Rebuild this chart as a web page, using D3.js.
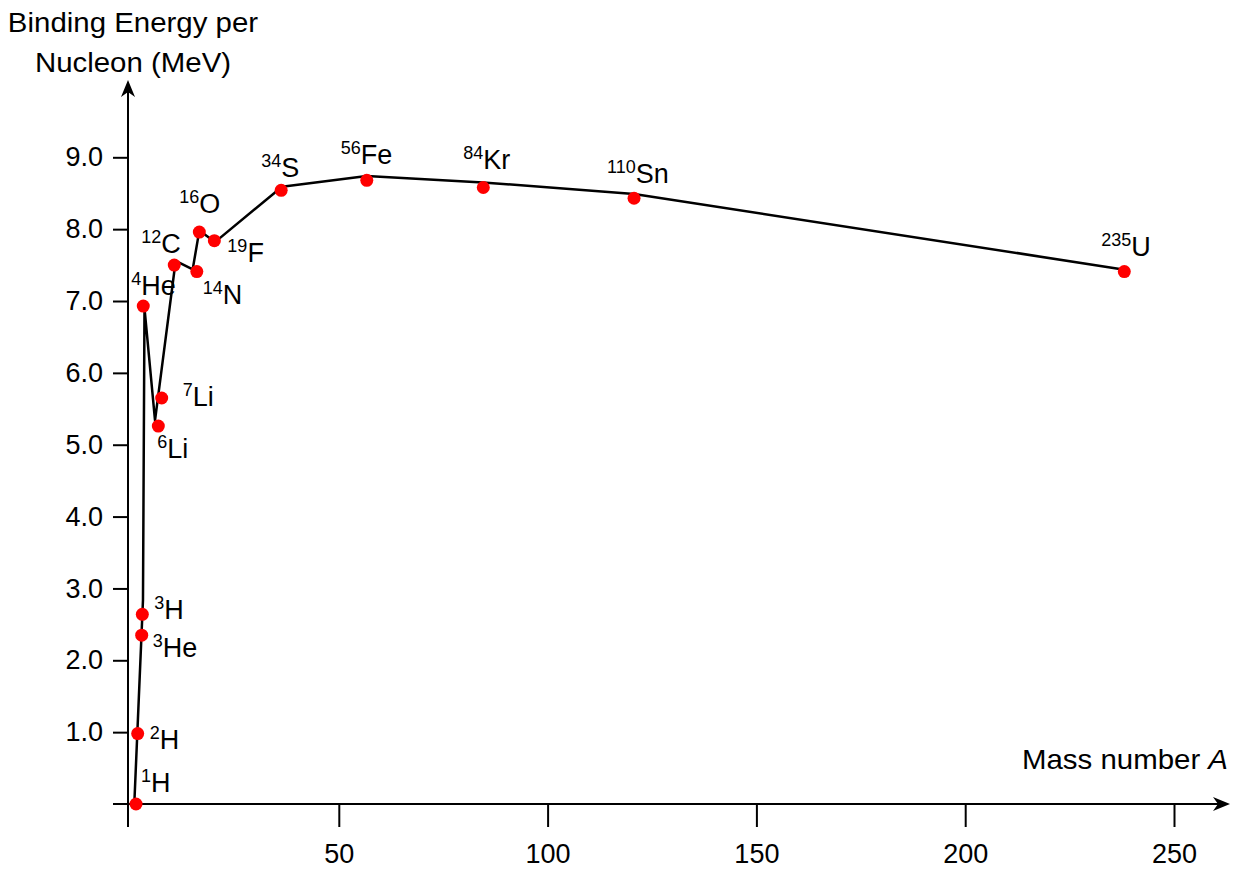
<!DOCTYPE html>
<html>
<head>
<meta charset="utf-8">
<script src="https://cdn.jsdelivr.net/npm/d3@7"></script>
<style>
  html, body { margin: 0; padding: 0; background: #fff; }
  svg text { font-family: "Liberation Sans", Arial, sans-serif; fill: #000; }
</style>
</head>
<body>
<svg id="chart"></svg>
<script>
// Data
const nuclides = ["1H", "2H", "3H", "3He", "4He", "6Li", "7Li", "12C", "14N", "16O", "19F", "34S", "56Fe", "84Kr", "110Sn", "235U"];
const massNumbers = ["1", "2", "3", "3", "4", "6", "7", "12", "14", "16", "19", "34", "56", "84", "110", "235"];
const symbols = ["H", "H", "H", "He", "He", "Li", "Li", "C", "N", "O", "F", "S", "Fe", "Kr", "Sn", "U"];
const pointA = [1.44, 1.84, 2.95, 2.8, 3.18, 6.78, 7.59, 10.6, 16.0, 16.6, 20.2, 36.2, 56.7, 84.6, 120.7, 238.1];
const pointE = [0.0, 0.98, 2.64, 2.35, 6.93, 5.26, 5.65, 7.50, 7.41, 7.96, 7.84, 8.54, 8.68, 8.58, 8.43, 7.41];

// the drawn curve does not pass exactly through the dots
const curveA = [1.03, 3.11, 3.47, 5.99, 10.94, 15.01, 16.6, 20.35, 36.4, 56.7, 84.5, 120.7, 237.8];
const curveE = [0.0, 2.84, 6.90, 5.34, 7.56, 7.44, 7.98, 7.82, 8.59, 8.74, 8.65, 8.49, 7.44];

const xTicks = [50, 100, 150, 200, 250];
const yTicks = [1, 2, 3, 4, 5, 6, 7, 8, 9];

// label placement (pixel offsets from the dot: start x, baseline y)
const labelOffsets = [
  [5, -12], [12, 15], [12, 5], [11, 22], [-12, -11], [-1, 32], [21, 8], [-33, -12],
  [6, 32], [-20, -19], [13, 21], [-20, -13], [-26, -16], [-20, -18], [-27, -15], [-23, -16]
];

const width = 1239;
const height = 870;
const fontSize = 27;
const supSize = 18;
const titleStretch = 1.09; // titles in the source are a bit wider than Arial

const svg = d3.select("#chart")
  .attr("width", width)
  .attr("height", height)
  .attr("viewBox", [0, 0, width, height]);

const x = d3.scaleLinear().domain([0, 250]).range([130, 1174]);
const y = d3.scaleLinear().domain([0, 9]).range([804, 157.3]);

const axisX = 128;
const axisY = y(0);

// axes lines
svg.append("line")
  .attr("x1", axisX).attr("x2", axisX)
  .attr("y1", 92).attr("y2", axisY + 23)
  .attr("stroke", "#000").attr("stroke-width", 2);

svg.append("line")
  .attr("x1", 113).attr("x2", 1218)
  .attr("y1", axisY).attr("y2", axisY)
  .attr("stroke", "#000").attr("stroke-width", 2);

// arrow heads
function arrow(tx, ty, angle) {
  svg.append("path")
    .attr("d", "M0,0 L-17,-7 L-12,0 L-17,7 Z")
    .attr("transform", `translate(${tx},${ty}) rotate(${angle})`)
    .attr("fill", "#000");
}
arrow(axisX, 80, -90);
arrow(1230, axisY, 0);

// y ticks
const yAxis = d3.axisLeft(y).tickValues(yTicks).tickSize(15).tickPadding(10)
  .tickFormat(d3.format(".1f"));
const gy = svg.append("g").attr("transform", `translate(${axisX},0)`).call(yAxis);
gy.select(".domain").remove();
gy.selectAll(".tick line").attr("stroke-width", 2);
gy.selectAll(".tick text")
  .attr("font-size", fontSize)
  .attr("font-family", "Liberation Sans, Arial, sans-serif");

// x ticks
const xAxis = d3.axisBottom(x).tickValues(xTicks).tickSize(23).tickPadding(17);
const gx = svg.append("g").attr("transform", `translate(0,${axisY})`).call(xAxis);
gx.select(".domain").remove();
gx.selectAll(".tick line").attr("stroke-width", 2);
gx.selectAll(".tick text")
  .attr("font-size", fontSize)
  .attr("font-family", "Liberation Sans, Arial, sans-serif");

// axis titles
function title(tx, ty, anchor) {
  return svg.append("text")
    .attr("transform", `translate(${tx},${ty}) scale(${titleStretch},1)`)
    .attr("text-anchor", anchor)
    .attr("font-size", fontSize);
}
title(133, 32, "middle").text("Binding Energy per");
title(133, 72, "middle").text("Nucleon (MeV)");

const xTitle = title(1228, 769, "end");
xTitle.append("tspan").text("Mass number ");
xTitle.append("tspan").attr("font-style", "italic").text("A");

// curve
const curve = d3.range(curveA.length).map(i => [curveA[i], curveE[i]]);
svg.append("path")
  .datum(curve)
  .attr("fill", "none")
  .attr("stroke", "#000")
  .attr("stroke-width", 2.5)
  .attr("stroke-linejoin", "round")
  .attr("d", d3.line().x(d => x(d[0])).y(d => y(d[1])));

// dots
const points = nuclides.map((n, i) => ({
  name: n, mass: massNumbers[i], symbol: symbols[i], a: pointA[i], e: pointE[i], off: labelOffsets[i]
}));

svg.append("g")
  .selectAll("circle")
  .data(points)
  .join("circle")
    .attr("cx", d => x(d.a))
    .attr("cy", d => y(d.e))
    .attr("r", 6.5)
    .attr("fill", "#ff0000");

// labels with superscript mass numbers
const labels = svg.append("g")
  .selectAll("text")
  .data(points)
  .join("text")
    .attr("x", d => x(d.a) + d.off[0])
    .attr("y", d => y(d.e) + d.off[1])
    .attr("font-size", fontSize);

labels.append("tspan")
  .attr("font-size", supSize)
  .attr("dy", -10)
  .text(d => d.mass);

labels.append("tspan")
  .attr("dy", 10)
  .text(d => d.symbol);
</script>
</body>
</html>
